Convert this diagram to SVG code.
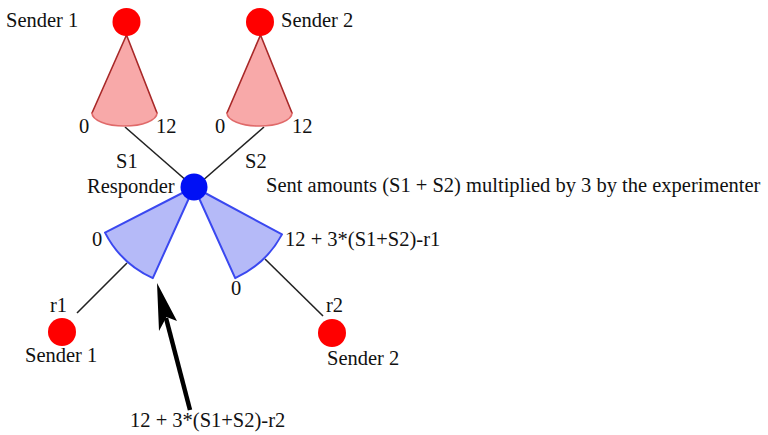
<svg xmlns="http://www.w3.org/2000/svg" width="768" height="435" viewBox="0 0 768 435">
<style>
text{font-family:"Liberation Serif","Times New Roman",serif;font-size:20.5px;fill:#111}
.cone{fill:#f8a9a9;stroke:none}
.side{fill:none;stroke:#a82828;stroke-width:1.6;stroke-linejoin:round;stroke-linecap:round}
.base{fill:none;stroke:#e06a6a;stroke-width:1.6;stroke-linecap:round}
.fan{fill:#b5baf8;stroke:#3a48f0;stroke-width:2;stroke-linejoin:round}
.red{fill:#ff0000}
.blue{fill:#0010f5}
.edge{stroke:#222;stroke-width:1.6;fill:none}
</style>
<rect width="768" height="435" fill="#fff"/>
<g id="connectors">
<line class="edge" x1="125" y1="127" x2="188" y2="182"/>
<line class="edge" x1="264" y1="127" x2="201" y2="182"/>
<line class="edge" x1="77" y1="313" x2="127" y2="263"/>
<line class="edge" x1="265" y1="259" x2="323" y2="316"/>
</g>
<g id="cone1">
<path class="cone" d="M126.5 35 L92 113 A32.5 13 0 0 0 157 113 Z"/>
<path class="side" d="M92 113 L126.5 35 L157 113"/>
<path class="base" d="M92 113 A32.5 13 0 0 0 157 113"/>
<text x="79" y="133">0</text>
<text x="156" y="133">12</text>
</g>
<g id="cone2">
<path class="cone" d="M260.5 35 L227 113 A32.5 13 0 0 0 292 113 Z"/>
<path class="side" d="M227 113 L260.5 35 L292 113"/>
<path class="base" d="M227 113 A32.5 13 0 0 0 292 113"/>
<text x="215" y="133">0</text>
<text x="292" y="133">12</text>
</g>
<g id="fan1">
<path class="fan" d="M194 187 L105 232.6 A100 100 0 0 0 152.8 278.1 Z"/>
<text x="92" y="246">0</text>
</g>
<g id="fan2">
<path class="fan" d="M194 187 L235.2 278.1 A100 100 0 0 0 282 234.4 Z"/>
<text x="231" y="295">0</text>
<text x="285" y="246">12 + 3*(S1+S2)-r1</text>
</g>
<g id="sender1-top">
<circle class="red" cx="126.5" cy="22" r="14"/>
<text x="6" y="27">Sender 1</text>
</g>
<g id="sender2-top">
<circle class="red" cx="260" cy="22" r="14"/>
<text x="281" y="27">Sender 2</text>
</g>
<g id="responder">
<circle class="blue" cx="194" cy="187" r="13.5"/>
<text x="87" y="193">Responder</text>
</g>
<g id="sender1-bottom">
<circle class="red" cx="62" cy="332" r="14"/>
<text x="50" y="312">r1</text>
<text x="25" y="362">Sender 1</text>
</g>
<g id="sender2-bottom">
<circle class="red" cx="332" cy="333" r="14"/>
<text x="326" y="312">r2</text>
<text x="327" y="365">Sender 2</text>
</g>
<g id="labels">
<text x="116" y="168">S1</text>
<text x="245" y="168">S2</text>
<text x="266" y="192">Sent amounts (S1 + S2) multiplied by 3 by the experimenter</text>
</g>
<g id="arrow">
<line x1="190" y1="410" x2="166" y2="318" stroke="#000" stroke-width="4.5"/>
<polygon points="157,283 177,321 166.5,317 159,331" fill="#000"/>
<text x="130" y="427">12 + 3*(S1+S2)-r2</text>
</g>
</svg>
